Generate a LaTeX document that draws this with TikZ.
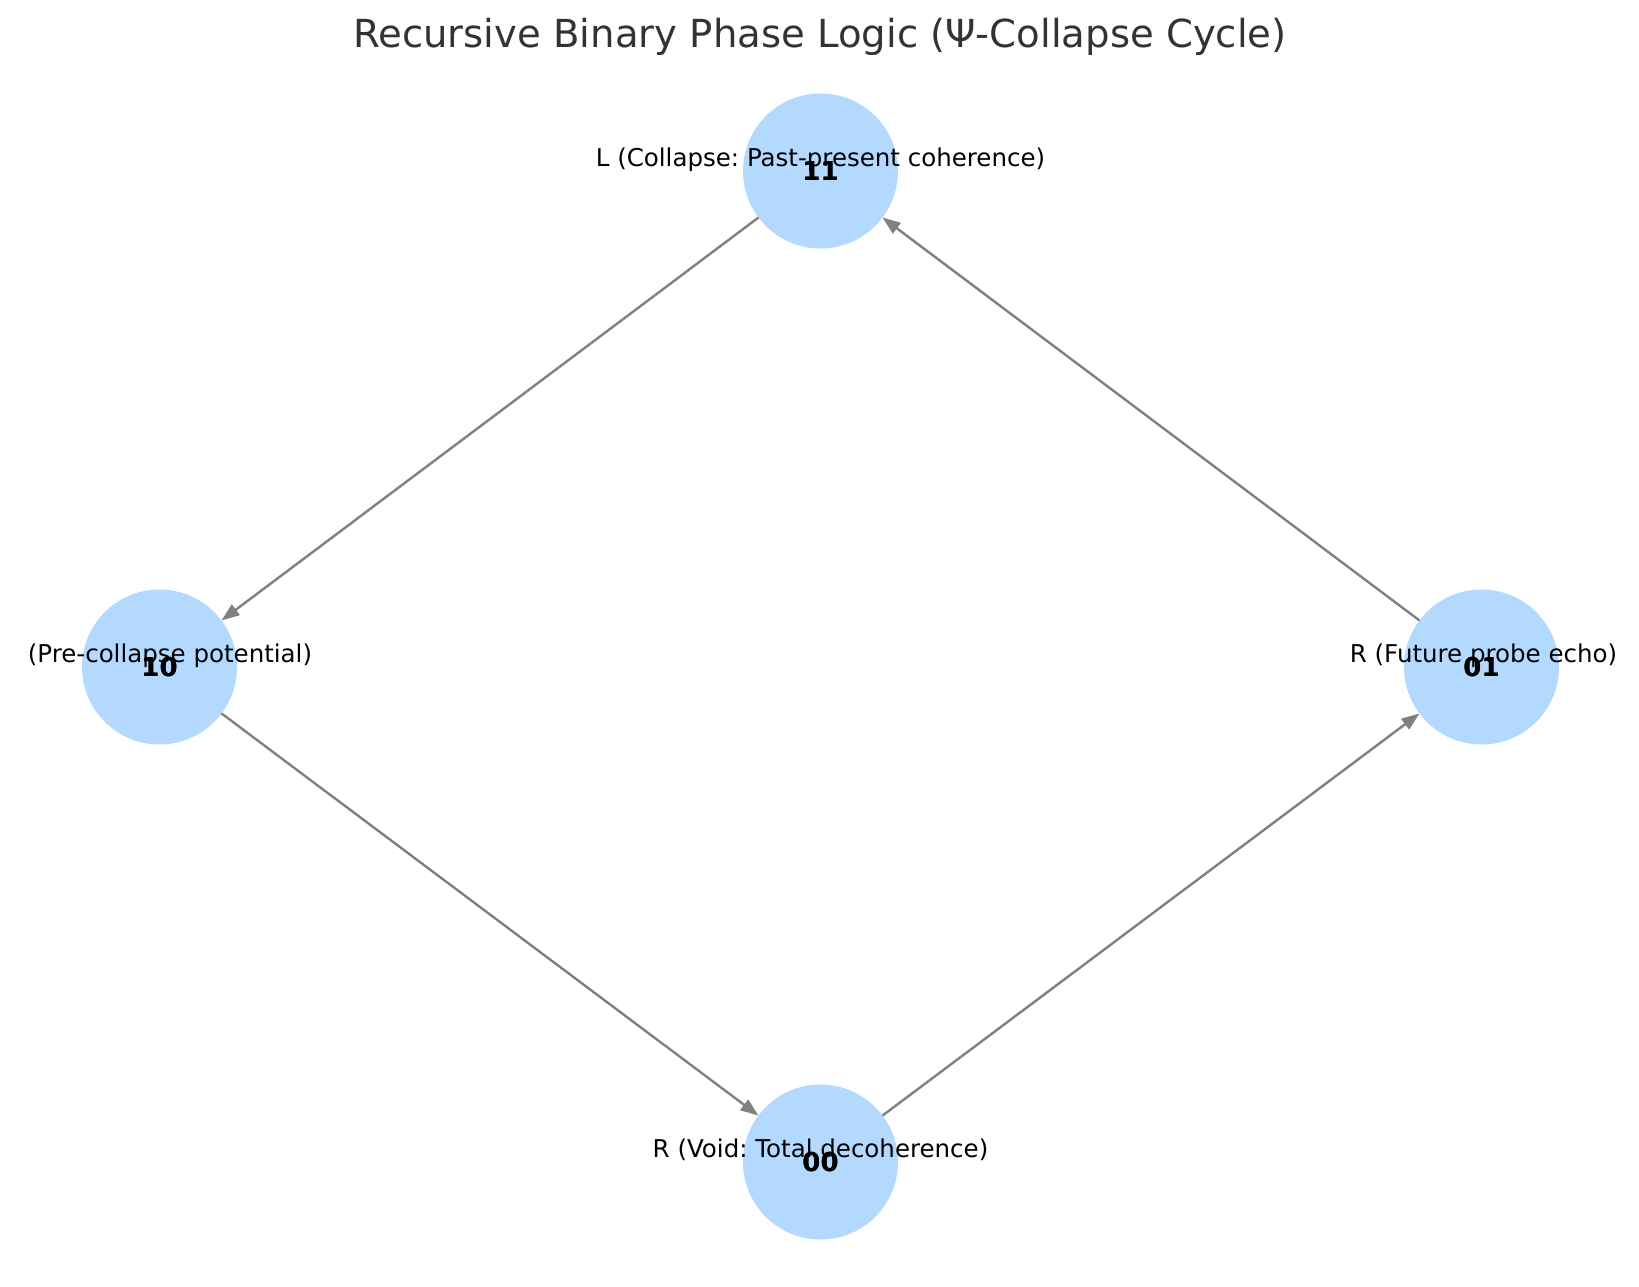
\documentclass[tikz,border=0pt]{standalone}
\usepackage{fontspec}
\setmainfont{DejaVu Sans}
\usetikzlibrary{arrows.meta}
\frenchspacing
\definecolor{nodeblue}{RGB}{179,217,255}
\definecolor{edgegray}{RGB}{128,128,128}
\definecolor{titlegray}{RGB}{51,51,51}
\tikzset{
  state/.style={circle, fill=nodeblue, draw=none, minimum size=77.5pt, inner sep=0pt, outer sep=0pt,
    font=\fontsize{13}{13}\selectfont\bfseries},
  desc/.style={anchor=base, inner sep=0pt, font=\fontsize{12.25}{12.25}\selectfont},
  flow/.style={draw=edgegray, line width=1.2pt, -{Triangle[length=9pt,width=6.5pt]}}
}
\begin{document}
\begin{tikzpicture}[x=0.5pt,y=-0.5pt]
\useasboundingbox (0,0) rectangle (1639,1286);
\node[anchor=base, inner sep=0pt, text=titlegray, font=\fontsize{19.3}{19.3}\selectfont] (title) at (820,47) {Recursive Binary Phase Logic (Ψ-Collapse Cycle)};
\node[state] (n11) at (820.5,171) {11};
\node[state] (n10) at (159.5,667) {10};
\node[state] (n01) at (1481.5,667) {01};
\node[state] (n00) at (820.5,1162) {00};
\draw[flow] (n11) -- (n10);
\draw[flow] (n10) -- (n00);
\draw[flow] (n00) -- (n01);
\draw[flow] (n01) -- (n11);
\node[desc] (l11) at (820.5,166) {L (Collapse: Past-present coherence)};
\node[desc] (l10) at (170,662) {(Pre-collapse potential)};
\node[desc] (l01) at (1483.5,662) {R (Future probe echo)};
\node[desc] (l00) at (820.5,1157) {R (Void: Total decoherence)};
\node[state, fill=none] (t11) at (n11) {11};
\node[state, fill=none] (t10) at (n10) {10};
\node[state, fill=none] (t01) at (n01) {01};
\node[state, fill=none] (t00) at (n00) {00};
\end{tikzpicture}
\end{document}
